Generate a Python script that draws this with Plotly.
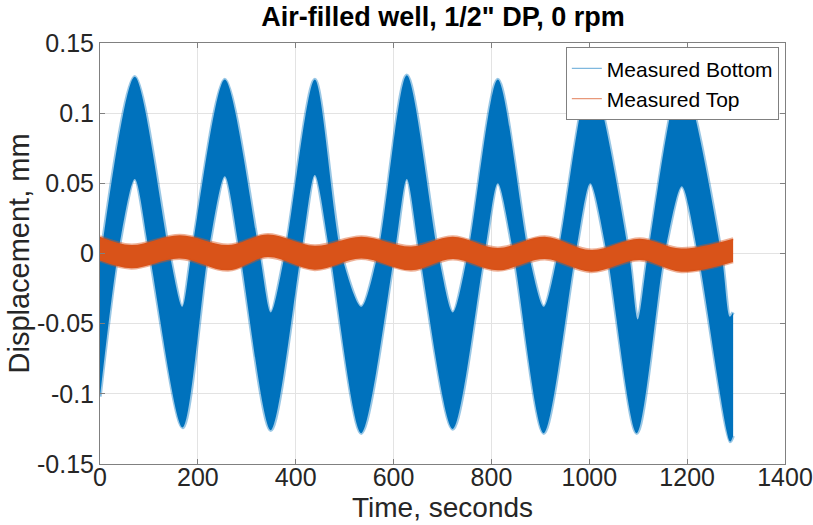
import plotly.graph_objects as go

# ---- data (envelopes of the noisy records) ----
bottom_upper_t = [0, 71, 142, 168, 187, 255, 326, 349, 378, 439, 493, 534, 568, 627, 691,
                  721, 752, 813, 876, 907, 936, 1003, 1081, 1099, 1120, 1189, 1270, 1287, 1294]
bottom_upper_v = [-0.006, 0.126, 0.0, -0.038, 0.0, 0.124, 0.0, -0.042, 0.0, 0.124, 0.0, -0.038, 0.0, 0.127, 0.0,
                  -0.042, 0.0, 0.124, 0.0, -0.038, 0.0, 0.125, 0.0, -0.047, 0.0, 0.125, 0.0, -0.045, -0.042]

bottom_lower_t = [0, 37, 71, 101, 169, 221, 255, 286, 349, 411, 439, 470, 534, 602, 627,
                  653, 721, 786, 813, 845, 907, 972, 1002, 1036, 1097, 1154, 1189, 1222, 1288, 1294]
bottom_lower_v = [-0.102, 0.0, 0.053, 0.0, -0.124, 0.0, 0.055, 0.0, -0.126, 0.0, 0.056, 0.0, -0.128, 0.0, 0.053,
                  0.0, -0.125, 0.0, 0.050, 0.0, -0.128, 0.0, 0.050, 0.0, -0.128, 0.0, 0.048, 0.0, -0.134, -0.130]

top_t = [0, 64, 163, 262, 343, 439, 534, 636, 721, 813, 909, 1004, 1103, 1188, 1294]
top_upper_v = [0.012, 0.006, 0.013, 0.006, 0.0135, 0.0055, 0.012, 0.005, 0.012, 0.004, 0.012, 0.0025, 0.0105, 0.0035, 0.0105]
top_lower_v = [-0.005, -0.0105, -0.0035, -0.012, -0.0025, -0.0115, -0.0035, -0.012, -0.004, -0.012, -0.004, -0.013, -0.0047, -0.013, -0.006]

x_ticks = [0, 200, 400, 600, 800, 1000, 1200, 1400]
y_ticks = [-0.15, -0.1, -0.05, 0, 0.05, 0.1, 0.15]
y_tick_text = ["-0.15", "-0.1", "-0.05", "0", "0.05", "0.1", "0.15"]

series_names = ["Measured Bottom", "Measured Top"]
blue = "#0072BD"
orange = "#D95319"
FONT = "Liberation Sans, Arial, Helvetica, sans-serif"

fig = go.Figure()

# Bottom sensor: band between lower and upper envelopes
fig.add_trace(go.Scatter(
    x=bottom_lower_t, y=bottom_lower_v, mode="lines",
    line=dict(color="rgba(0,114,189,0.4)", width=3.5, shape="spline", smoothing=0.8),
    hoverinfo="skip", showlegend=False))
fig.add_trace(go.Scatter(
    x=bottom_upper_t, y=bottom_upper_v, mode="lines", fill="tonexty", fillcolor=blue,
    line=dict(color="rgba(0,114,189,0.4)", width=3.5, shape="spline", smoothing=0.8),
    hoverinfo="skip", showlegend=False))

# Top sensor: band between lower and upper envelopes
fig.add_trace(go.Scatter(
    x=top_t, y=top_lower_v, mode="lines",
    line=dict(color="rgba(217,83,25,0.45)", width=3, shape="spline"),
    hoverinfo="skip", showlegend=False))
fig.add_trace(go.Scatter(
    x=top_t, y=top_upper_v, mode="lines", fill="tonexty", fillcolor=orange,
    line=dict(color="rgba(217,83,25,0.45)", width=3, shape="spline"),
    hoverinfo="skip", showlegend=False))

# legend entries (line style, as in the original)
fig.add_trace(go.Scatter(x=[None], y=[None], mode="lines", name=series_names[0],
                         line=dict(color="#7fb8de", width=1.2)))
fig.add_trace(go.Scatter(x=[None], y=[None], mode="lines", name=series_names[1],
                         line=dict(color="#e8987a", width=1.2)))

axis_common = dict(
    showline=True, linecolor="#808080", linewidth=1, mirror="ticks",
    ticks="inside", ticklen=5, tickcolor="#808080", tickwidth=1,
    showgrid=True, gridcolor="#e3e3e3", gridwidth=1, zeroline=False,
    automargin=False,
    tickfont=dict(family=FONT, size=25, color="#262626"),
)

fig.update_xaxes(range=[0, 1400], tickvals=x_ticks, ticktext=[str(v) for v in x_ticks],
                 ticklabelstandoff=-9, ticklabeloverflow="allow", **axis_common)
fig.update_yaxes(range=[-0.15, 0.15], tickvals=y_ticks, ticktext=y_tick_text, **axis_common)

fig.update_layout(
    width=813, height=525,
    margin=dict(l=100, r=28, t=43, b=61, autoexpand=False),
    paper_bgcolor="white", plot_bgcolor="white",
    title=dict(text="<b>Air-filled well, 1/2\" DP, 0 rpm</b>", x=0.5449, xanchor="center",
               y=1 - 17 / 525, yanchor="middle", yref="container",
               font=dict(family=FONT, size=27, color="black")),
    legend=dict(x=0.991, y=0.99, xanchor="right", yanchor="top",
                bgcolor="white", bordercolor="#808080", borderwidth=1,
                font=dict(family=FONT, size=21, color="black"),
                traceorder="normal", tracegroupgap=0, itemwidth=30),
    annotations=[
        dict(text="Time, seconds", xref="paper", yref="paper", x=0.5, y=-0.1445,
             xanchor="center", yanchor="bottom", showarrow=False,
             font=dict(family=FONT, size=28, color="#262626")),
        dict(text="Displacement, mm", xref="paper", yref="paper", x=-0.1197, y=0.5,
             xanchor="center", yanchor="middle", textangle=-90, showarrow=False,
             font=dict(family=FONT, size=29, color="#262626")),
    ],
)

fig.write_html("out.html")
